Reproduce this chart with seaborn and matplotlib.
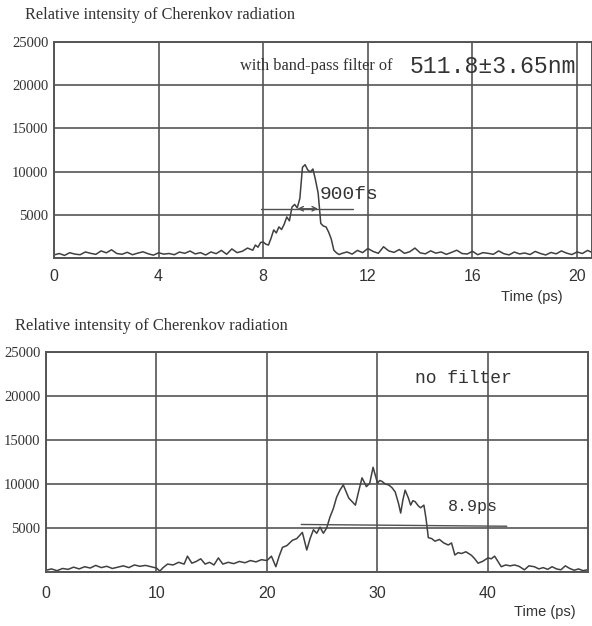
import matplotlib
matplotlib.use("Agg")
import matplotlib.pyplot as plt
import seaborn as sns
import pandas as pd

# Filtered measurement (band-pass 511.8 +/- 3.65 nm)
time_filtered = [0.0, 0.2, 0.4, 0.6, 0.8, 1.0, 1.2, 1.4, 1.6, 1.8, 2.0, 2.2, 2.4, 2.6, 2.8,
                 3.0, 3.2, 3.4, 3.6, 3.8, 4.0, 4.2, 4.4, 4.6, 4.8, 5.0, 5.2, 5.4, 5.6, 5.8,
                 6.0, 6.2, 6.4, 6.6, 6.8, 7.0, 7.2, 7.4,
                 7.6, 7.7, 7.8, 7.9, 8.0, 8.1, 8.2, 8.3, 8.4, 8.5, 8.6, 8.7, 8.8, 8.9, 9.0,
                 9.1, 9.2, 9.3, 9.4, 9.5, 9.6, 9.7, 9.8, 9.9, 10.0, 10.1, 10.2, 10.3, 10.4,
                 10.5, 10.6, 10.7, 10.8, 10.9, 11.0,
                 11.2, 11.4, 11.6, 11.8, 12.0, 12.2, 12.4, 12.6, 12.8, 13.0, 13.2, 13.4,
                 13.6, 13.8, 14.0, 14.2, 14.4, 14.6, 14.8, 15.0, 15.2, 15.4, 15.6, 15.8,
                 16.0, 16.2, 16.4, 16.6, 16.8, 17.0, 17.2, 17.4, 17.6, 17.8, 18.0, 18.2,
                 18.4, 18.6, 18.8, 19.0, 19.2, 19.4, 19.6, 19.8, 20.0, 20.2, 20.4, 20.6]
intensity_filtered = [350, 520, 300, 610, 450, 380, 700, 540, 420, 820, 600, 950, 520, 430, 660,
                      380, 560, 720, 490, 330, 600, 450, 520, 380, 690, 540, 810, 470, 620, 350,
                      700, 500, 880, 430, 1050, 620, 780, 1150,
                      900, 1500, 1250, 1800, 1850, 1600, 1500, 2300, 3250, 2900, 3600, 3300, 3900, 4750, 4300,
                      5900, 6200, 5800, 6900, 10500, 10800, 10200, 9950, 10300, 9000, 7500, 4000, 3700, 3600,
                      3000, 2200, 900, 600, 400, 520,
                      700, 450, 880, 620, 1100, 760, 540, 1300, 820, 650, 980, 540,
                      720, 1150, 600, 480, 830, 560, 700, 420, 650, 900, 520, 460,
                      780, 380, 620, 540, 430, 820, 500, 360, 690, 470, 580, 400,
                      760, 520, 350, 640, 480, 820, 560, 400, 700, 520, 880, 600]

# Unfiltered measurement
time_nofilter = [0.0, 0.5, 1.0, 1.5, 2.0, 2.5, 3.0, 3.5, 4.0, 4.5, 5.0, 5.5, 6.0, 6.5, 7.0,
                 7.5, 8.0, 8.5, 9.0, 9.5, 10.0, 10.3, 10.6,
                 11.0, 11.5, 12.0, 12.5, 12.8, 13.2, 13.6, 14.0, 14.4, 14.8, 15.2, 15.6,
                 16.0, 16.5, 17.0, 17.5, 18.0, 18.5, 19.0, 19.5, 20.0, 20.4, 20.8, 21.1,
                 21.4, 21.8, 22.3, 22.7, 23.2, 23.6, 23.9, 24.2, 24.5, 24.8, 25.1, 25.4,
                 25.7, 26.0, 26.3, 26.6, 26.9, 27.2, 27.4, 27.7, 28.0, 28.3, 28.6, 28.8,
                 29.0, 29.3, 29.6, 29.8, 30.0, 30.2, 30.4, 30.7, 31.0, 31.3, 31.6, 31.9,
                 32.1, 32.3, 32.5, 32.8, 33.0, 33.2, 33.4, 33.7, 33.9, 34.2, 34.4, 34.6,
                 34.9, 35.2, 35.6, 36.0, 36.4, 36.7, 37.0, 37.3, 37.6, 38.0, 38.5, 38.8,
                 39.1, 39.5, 40.0, 40.3, 40.6, 40.9, 41.2, 41.6, 42.0, 42.4, 42.8, 43.3,
                 43.7, 44.2, 44.6, 45.0, 45.4, 45.8, 46.2, 46.6, 47.0, 47.4, 47.8, 48.2,
                 48.6, 49.0]
intensity_nofilter = [200, 350, 150, 400, 300, 550, 350, 600, 450, 750, 500, 650, 400, 550, 700,
                      500, 800, 650, 750, 600, 450, 100, 500,
                      900, 800, 1100, 900, 1800, 1000, 1200, 1500, 900, 1100, 800, 1600,
                      900, 1100, 950, 1200, 1050, 1300, 1150, 1400, 1300, 1800, 600, 1800,
                      2800, 3000, 3600, 3800, 4500, 2500, 3800, 4800, 4400, 5100, 4400, 5000,
                      6250, 7200, 8500, 9300, 9900, 9000, 8400, 8000, 7600, 9200, 10700, 10200,
                      9700, 10100, 11900, 11000, 10100, 10400, 10300, 10000, 9900, 9600, 9100, 7800,
                      6700, 8200, 9300, 8400, 7600, 8100, 8000, 7500, 7300, 7600, 6000, 3900,
                      3800, 3500, 3700, 3300, 3070, 3300, 1930, 2200, 2100, 2300, 1900, 1500,
                      1000, 1200, 1600, 1500, 1800, 1200, 600, 800, 700, 800, 650, 250,
                      700, 600, 350, 500, 300, 600, 350, 250, 700, 400, 200, 350,
                      150, 250]

panel_title = "Relative intensity of Cherenkov radiation"
y_ticks = [5000, 10000, 15000, 20000, 25000]
x_ticks_filtered = [0, 4, 8, 12, 16, 20]
x_ticks_nofilter = [0, 10, 20, 30, 40]

INK = "#333333"
GRID = "#555555"
SERIF = ["Liberation Serif", "DejaVu Serif"]
SANS = ["Liberation Sans", "DejaVu Sans"]
MONO = ["Liberation Mono", "DejaVu Sans Mono"]

sns.set_style("white")
plt.rcParams["font.family"] = SANS

W, H = 592, 626
fig = plt.figure(figsize=(W / 100, H / 100), dpi=100)


def px_axes(left, top, right, bottom):
    return fig.add_axes([left / W, 1 - bottom / H, (right - left) / W, (bottom - top) / H])


def style_axes(ax, xticks, xlim):
    ax.set_xlim(*xlim)
    ax.set_ylim(0, 25000)
    ax.set_xticks(xticks)
    ax.set_yticks([0] + y_ticks)
    ax.set_yticklabels([""] + [str(v) for v in y_ticks], family=SERIF, fontsize=10.5, color=INK)
    ax.set_xticklabels([str(v) for v in xticks], family=SANS, fontsize=11.5, color=INK)
    ax.tick_params(length=0, pad=4)
    ax.tick_params(axis="x", pad=8)
    ax.grid(True, color=GRID, linewidth=1.2)
    ax.set_axisbelow(True)
    for s in ax.spines.values():
        s.set_color(GRID)
        s.set_linewidth(1.4)
    ax.set_xlabel("")
    ax.set_ylabel("")


# Top panel: band-pass filtered
ax1 = px_axes(54, 42, 592, 258)
df1 = pd.DataFrame({"time": time_filtered, "intensity": intensity_filtered})
sns.lineplot(data=df1, x="time", y="intensity", ax=ax1, color="#404040", linewidth=1.1)
style_axes(ax1, x_ticks_filtered, (0, 20.57))
ax1.text(7.1, 22200, "with band-pass filter of", family=SERIF, fontsize=11.8,
         color=INK, va="center", ha="left")
ax1.text(13.6, 22200, "511.8\u00b13.65nm", family=MONO, fontsize=16.7,
         color=INK, va="center", ha="left")
ax1.plot([7.9, 11.45], [5700, 5700], color="#505050", lw=1.0)
ax1.annotate("", xy=(9.2, 5700), xytext=(10.2, 5700),
             arrowprops=dict(arrowstyle="<->", color="#505050", lw=1.0, mutation_scale=8))
ax1.text(10.17, 7300, "900fs", family=MONO, fontsize=14, color=INK, va="center", ha="left")

# Bottom panel: no filter
ax2 = px_axes(46, 352, 588, 572)
df2 = pd.DataFrame({"time": time_nofilter, "intensity": intensity_nofilter})
sns.lineplot(data=df2, x="time", y="intensity", ax=ax2, color="#404040", linewidth=1.1)
style_axes(ax2, x_ticks_nofilter, (0, 49.05))
ax2.tick_params(axis="x", pad=10)
ax2.text(33.4, 22000, "no filter", family=MONO, fontsize=13, color=INK, va="center", ha="left")
ax2.plot([23.1, 41.7], [5400, 5200], color="#505050", lw=1.0)
ax2.text(36.4, 7400, "8.9ps", family=MONO, fontsize=12, color=INK, va="center", ha="left")

# Titles and axis labels
fig.text(25 / W, 1 - 15 / H, panel_title, family=SERIF, fontsize=11.7, color=INK,
         va="center", ha="left")
fig.text(15 / W, 1 - 326 / H, panel_title, family=SERIF, fontsize=11.9, color=INK,
         va="center", ha="left")
fig.text(532 / W, 1 - 297 / H, "Time (ps)", family=SANS, fontsize=10.5, color=INK,
         va="center", ha="center")
fig.text(545 / W, 1 - 612 / H, "Time (ps)", family=SANS, fontsize=10.5, color=INK,
         va="center", ha="center")

fig.savefig("out.png", dpi=100)
